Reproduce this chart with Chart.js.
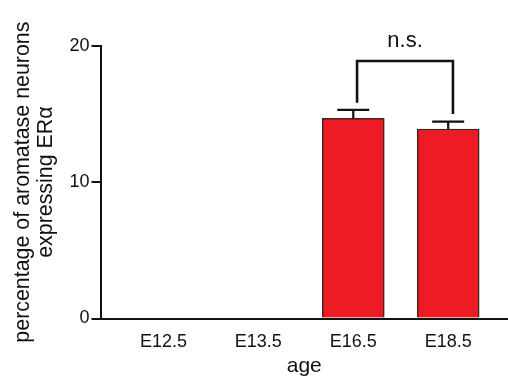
<!DOCTYPE html>
<html><head><meta charset="utf-8">
<script src="https://cdn.jsdelivr.net/npm/chart.js@4"></script>
<style>html,body{margin:0;padding:0;background:#fff;overflow:hidden}#wrap{width:508px;height:383px;position:relative}</style>
</head><body><div id="wrap"><canvas id="c"></canvas></div>
<script>
const categories = ['E12.5', 'E13.5', 'E16.5', 'E18.5'];
const values = [0, 0, 14.68, 13.89];
const errors = [0, 0, 0.61, 0.54];
const yTicks = [0, 10, 20];
const yTitleLines = ['percentage of aromatase neurons', 'expressing ERα'];
const xTitle = 'age';
const bracketX = [2.04, 3.05];
const bracketTop = 18.88;
const bracketLegBottoms = [15.82, 14.99];
const bracketLabel = 'n.s.';

const FONT = "'Liberation Sans', Arial, sans-serif";

const overlay = {
  id: 'overlay',
  afterDatasetsDraw(chart) {
    const ctx = chart.ctx, xs = chart.scales.x, ys = chart.scales.y;
    ctx.save();
    ctx.strokeStyle = '#111';
    ctx.lineWidth = 2.2;
    values.forEach((v, i) => {
      if (!errors[i]) return;
      const x = xs.getPixelForValue(i);
      const y0 = ys.getPixelForValue(v);
      const y1 = ys.getPixelForValue(v + errors[i]);
      ctx.beginPath();
      ctx.moveTo(x, y0); ctx.lineTo(x, y1);
      ctx.moveTo(x - 16, y1); ctx.lineTo(x + 16, y1);
      ctx.stroke();
    });
    const xa = xs.getPixelForValue(bracketX[0]);
    const xb = xs.getPixelForValue(bracketX[1]);
    const yt = ys.getPixelForValue(bracketTop);
    ctx.lineWidth = 2.6;
    ctx.beginPath();
    ctx.moveTo(xa, ys.getPixelForValue(bracketLegBottoms[0]));
    ctx.lineTo(xa, yt);
    ctx.lineTo(xb, yt);
    ctx.lineTo(xb, ys.getPixelForValue(bracketLegBottoms[1]));
    ctx.stroke();
    ctx.fillStyle = '#111';
    ctx.font = '22px ' + FONT;
    ctx.textAlign = 'center';
    ctx.textBaseline = 'alphabetic';
    ctx.fillText(bracketLabel, (xa + xb) / 2, yt - 14);

    // y-axis title, two rotated lines centred on the value axis
    const cy = (ys.top + ys.bottom) / 2;
    ctx.font = '21.4px ' + FONT;
    ctx.textBaseline = 'middle';
    yTitleLines.forEach((line, k) => {
      ctx.save();
      ctx.translate(23 + k * 23.5, cy);
      ctx.rotate(-Math.PI / 2);
      ctx.fillText(line, 0, 0);
      ctx.restore();
    });
    ctx.restore();
  }
};

new Chart(document.getElementById('c'), {
  type: 'bar',
  data: {
    datasets: [{
      data: values.map((v, i) => ({ x: i, y: v })),
      backgroundColor: '#ED1C24',
      borderColor: '#3a2420',
      borderWidth: 1.5,
      borderSkipped: 'bottom',
      barThickness: 62
    }]
  },
  options: {
    responsive: true,
    maintainAspectRatio: false,
    animation: false,
    layout: { padding: { top: 45.7, right: 0, left: 0, bottom: 0 } },
    plugins: { legend: { display: false }, tooltip: { enabled: false } },
    scales: {
      x: {
        type: 'linear',
        offset: false,
        min: -0.663,
        max: 3.63,
        bounds: 'data',
        afterBuildTicks(s) { s.ticks = categories.map((c, i) => ({ value: i })); },
        afterFit(s) { s.height = 64.5; s.paddingLeft = 0; s.paddingRight = 0; },
        ticks: {
          callback: (v) => categories[v],
          color: '#111',
          font: { family: FONT, size: 18 },
          padding: 13,
          maxRotation: 0,
          autoSkip: false
        },
        grid: { display: true, offset: false, drawOnChartArea: false, drawTicks: false },
        border: { display: true, color: '#111', width: 2 },
        title: {
          display: true, text: xTitle, color: '#111',
          font: { family: FONT, size: 21 },
          padding: { top: 0, bottom: 4 }
        }
      },
      y: {
        min: 0, max: 20,
        afterBuildTicks(s) { s.ticks = yTicks.map(v => ({ value: v })); },
        afterFit(s) { s.width = 100.5; },
        ticks: {
          color: '#111',
          font: { family: FONT, size: 18 },
          padding: 2
        },
        grid: { display: true, drawOnChartArea: false, drawTicks: true, tickLength: 9, color: '#111', lineWidth: 2 },
        border: { display: true, color: '#111', width: 2 },
        title: { display: false }
      }
    }
  },
  plugins: [overlay]
});
</script></body></html>
